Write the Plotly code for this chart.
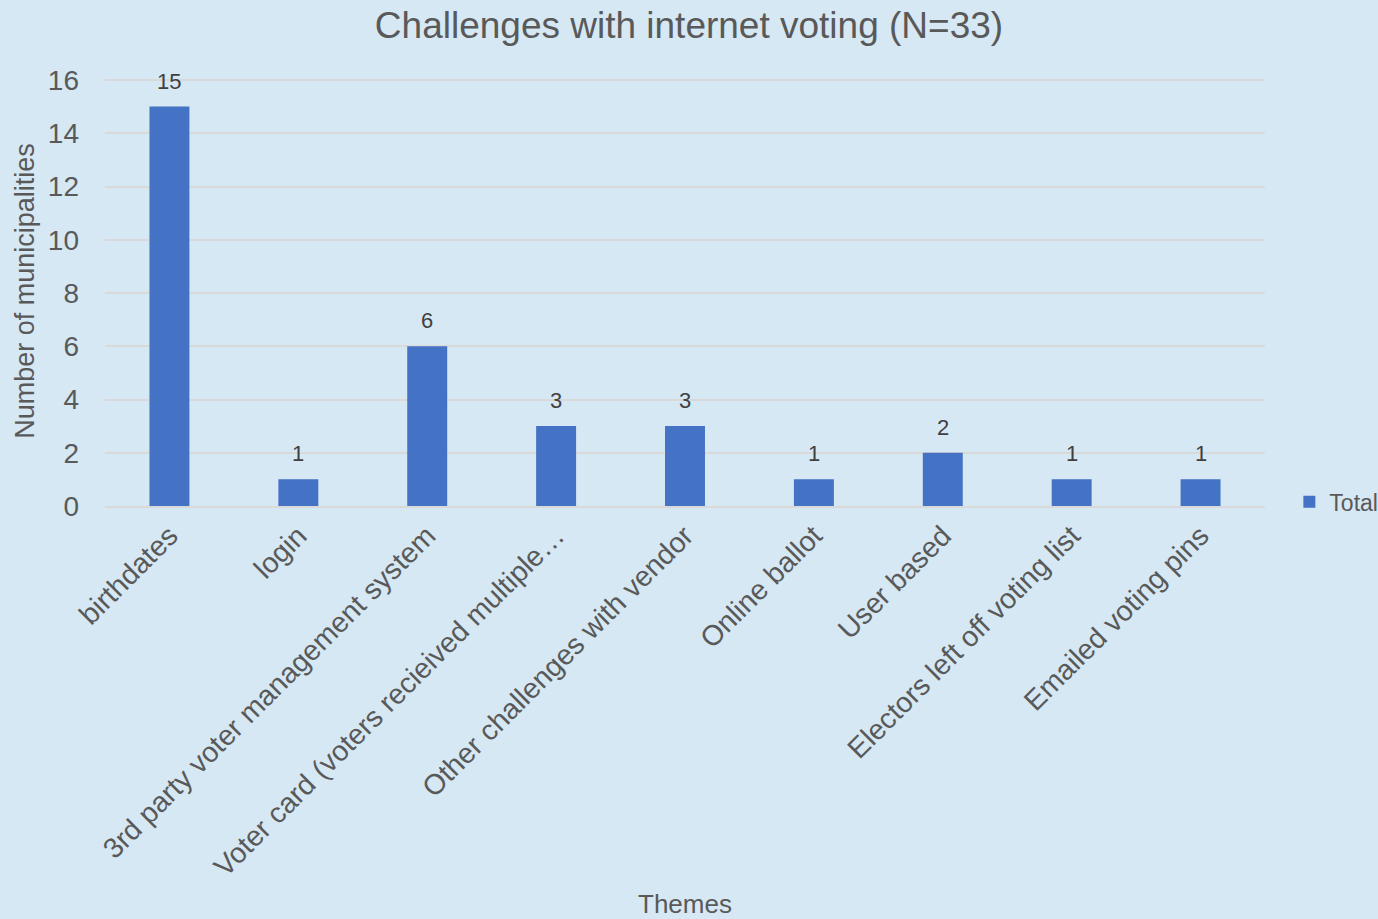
import plotly.graph_objects as go

categories = ["birthdates", "login", "3rd party voter management system",
              "Voter card (voters recieived multiple…", "Other challenges with vendor",
              "Online ballot", "User based", "Electors left off voting list",
              "Emailed voting pins"]
values = [15, 1, 6, 3, 3, 1, 2, 1, 1]
y_ticks = [0, 2, 4, 6, 8, 10, 12, 14, 16]

BG = "#D5E8F4"
TXT = "#595959"
FONT = "Liberation Sans, Arial, sans-serif"

fig = go.Figure()
fig.add_trace(go.Bar(
    x=categories, y=values, name="Total",
    marker=dict(color="#4472C4", line=dict(width=0)),
    width=0.31,
    cliponaxis=False,
))
for c, v in zip(categories, values):
    fig.add_annotation(x=c, y=v, text=str(v), showarrow=False, yanchor="bottom",
                       yshift=11, font=dict(size=22, color="#404040", family=FONT))

fig.update_layout(
    width=1378, height=919,
    paper_bgcolor=BG, plot_bgcolor=BG,
    font=dict(family=FONT, color=TXT),
    title=dict(text="Challenges with internet voting (N=33)", x=0.5, xanchor="center",
               y=0.973, yanchor="middle", font=dict(size=37, color=TXT, family=FONT)),
    margin=dict(l=105, r=113, t=76, b=413, autoexpand=False),
    showlegend=True,
    legend=dict(x=1.021, y=0.01, xanchor="left", yanchor="middle",
                font=dict(size=23, color=TXT), bgcolor="rgba(0,0,0,0)",
                itemwidth=30),
    bargap=0.69,
)
fig.update_xaxes(
    tickangle=-45, tickfont=dict(size=28.5, color=TXT), automargin=False,
    showline=True, linecolor="#D9D9D9", linewidth=1.5, ticks="",
    title=dict(text="Themes", font=dict(size=26, color=TXT), standoff=22),
)
fig.update_yaxes(
    range=[0, 16.15], tickvals=y_ticks, tickfont=dict(size=28, color=TXT),
    showgrid=True, gridcolor="#D9D9D9", gridwidth=1.5, zeroline=False,
    automargin=False, ticks="", ticklabelstandoff=25,
    title=dict(text="Number of municipalities", font=dict(size=27, color=TXT), standoff=5),
)
fig.write_html("out.html", config={"displayModeBar": False},
               post_script="document.body.style.margin='0';")
